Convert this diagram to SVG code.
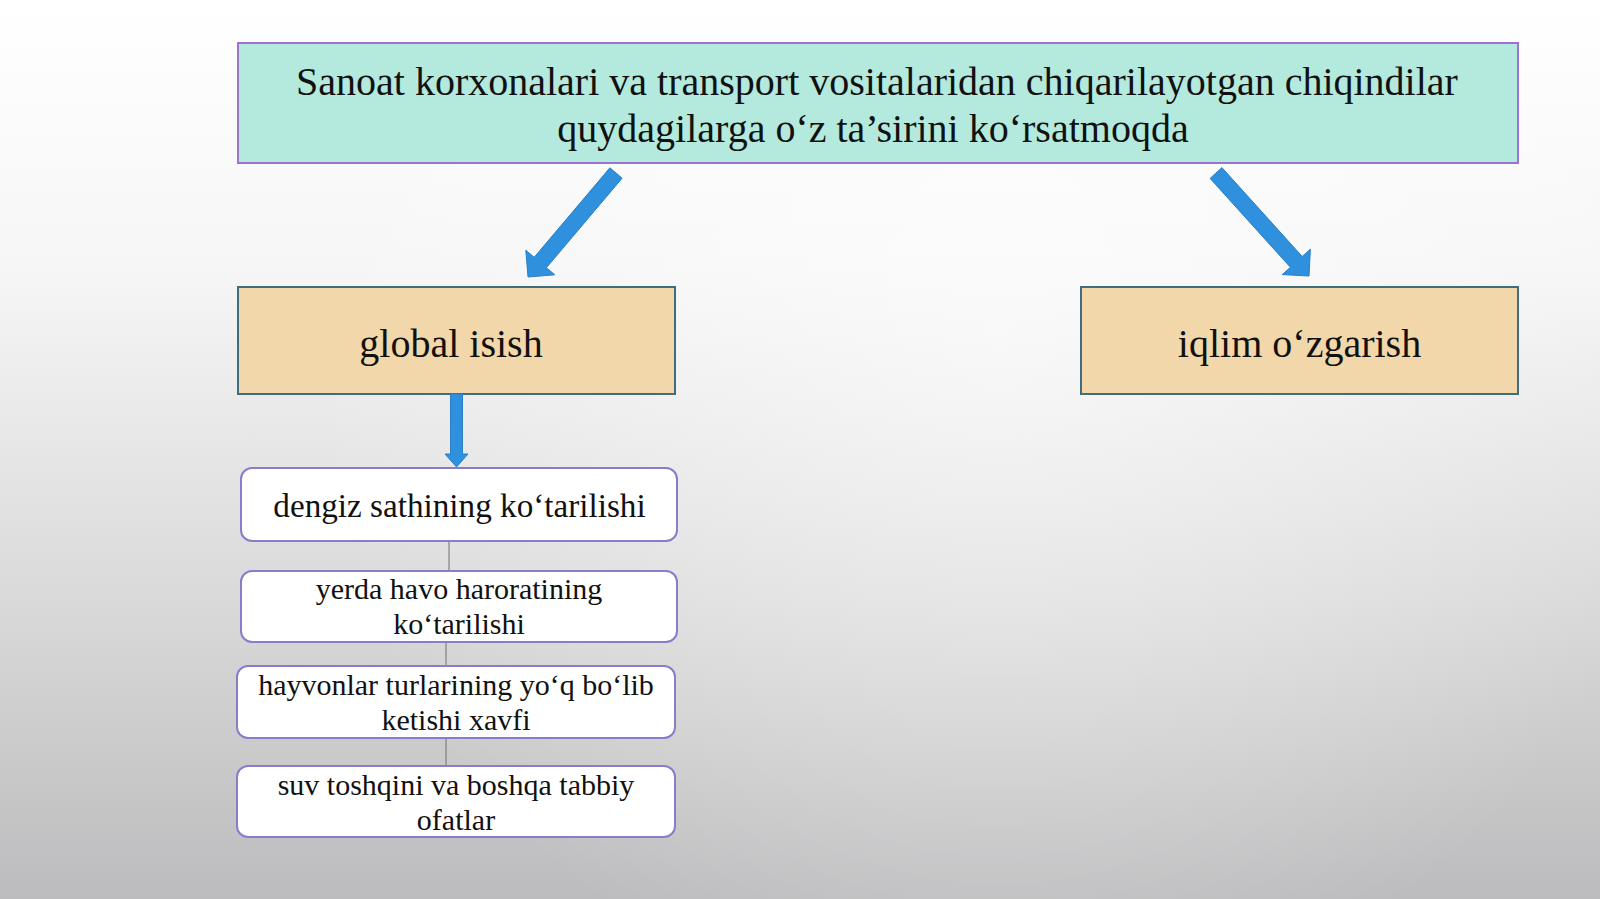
<svg xmlns="http://www.w3.org/2000/svg" width="1600" height="899" viewBox="0 0 1600 899">
<defs>
<linearGradient id="bg" x1="0" y1="0" x2="0" y2="899" gradientUnits="userSpaceOnUse">
<stop offset="0" stop-color="#ffffff"/>
<stop offset="0.3" stop-color="#f6f6f6"/>
<stop offset="0.67" stop-color="#d9d9d9"/>
<stop offset="1" stop-color="#bcbcbe"/>
</linearGradient>
<radialGradient id="hl" cx="1000" cy="330" r="700" gradientUnits="userSpaceOnUse">
<stop offset="0" stop-color="#ffffff" stop-opacity="0.55"/>
<stop offset="1" stop-color="#ffffff" stop-opacity="0"/>
</radialGradient>
<style>
.t{font-family:"Liberation Serif","Times New Roman",serif;fill:#111111;text-anchor:middle}
.arrow{fill:#2f90dd;stroke:#2a80c8;stroke-width:1}
.conn{stroke:#707070;stroke-width:1;fill:none}
.sub{fill:#ffffff;stroke:#8c7acb;stroke-width:2}
.mid{fill:#f2d7aa;stroke:#3f6d7e;stroke-width:2}
</style>
</defs>
<rect x="0" y="0" width="1600" height="899" fill="url(#bg)"/>
<rect x="0" y="0" width="1600" height="899" fill="url(#hl)"/>

<g id="title">
<rect x="238" y="43" width="1280" height="120" fill="#b4e9dd" stroke="#9c74cf" stroke-width="2"/>
<text class="t" x="877" y="95" font-size="40">Sanoat korxonalari va transport vositalaridan chiqarilayotgan chiqindilar</text>
<text class="t" x="873" y="142" font-size="40">quydagilarga o‘z ta’sirini ko‘rsatmoqda</text>
</g>

<g id="global">
<rect class="mid" x="238" y="287" width="437" height="107"/>
<text class="t" x="451" y="357" font-size="40">global isish</text>
</g>

<g id="iqlim">
<rect class="mid" x="1081" y="287" width="437" height="107"/>
<text class="t" x="1299.5" y="357" font-size="40">iqlim o‘zgarish</text>
</g>

<g id="connectors">
<polygon class="arrow" points="622.1,178.2 546.4,267.7 554.8,274.8 528,277 525.8,250.2 534.2,257.3 609.9,167.8"/>
<polygon class="arrow" points="1221.9,167.6 1302.2,256.5 1310.4,249.2 1309,276 1282.2,274.6 1290.4,267.3 1210.1,178.4"/>
<polygon class="arrow" points="450.5,394 462.5,394 462.5,454 468,454 456.5,467 445,454 450.5,454"/>
<line class="conn" x1="449" y1="541" x2="449" y2="571"/>
<line class="conn" x1="446" y1="642" x2="446" y2="666"/>
<line class="conn" x1="446" y1="738" x2="446" y2="766"/>
</g>

<g id="sub1">
<rect class="sub" x="241" y="468" width="436" height="73" rx="11"/>
<text class="t" x="459.5" y="517" font-size="33.2">dengiz sathining ko‘tarilishi</text>
</g>

<g id="sub2">
<rect class="sub" x="241" y="571" width="436" height="71" rx="11"/>
<text class="t" x="459" y="599" font-size="30">yerda havo haroratining</text>
<text class="t" x="459" y="634" font-size="30">ko‘tarilishi</text>
</g>

<g id="sub3">
<rect class="sub" x="237" y="666" width="438" height="72" rx="11"/>
<text class="t" x="456" y="695" font-size="30">hayvonlar turlarining yo‘q bo‘lib</text>
<text class="t" x="456" y="730" font-size="30">ketishi xavfi</text>
</g>

<g id="sub4">
<rect class="sub" x="237" y="766" width="438" height="71" rx="11"/>
<text class="t" x="456" y="795" font-size="30">suv toshqini va boshqa tabbiy</text>
<text class="t" x="456" y="830" font-size="30">ofatlar</text>
</g>
</svg>
